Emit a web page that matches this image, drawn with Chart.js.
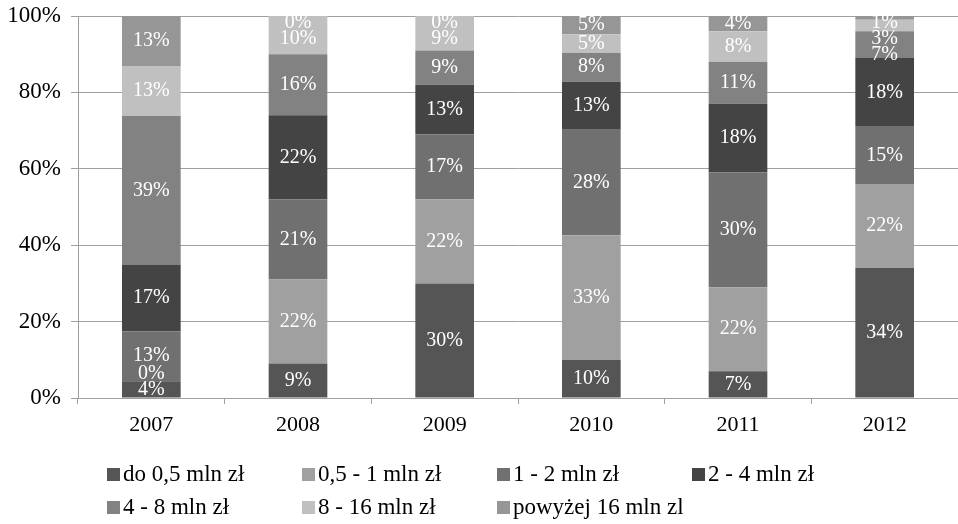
<!DOCTYPE html>
<html>
<head>
<meta charset="utf-8">
<script src="https://cdn.jsdelivr.net/npm/chart.js@4/dist/chart.umd.min.js"></script>
<style>
    body { margin: 0; background: #fff; }
    #wrap { position: relative; width: 958px; height: 524px; }
    #legend {
        position: absolute; left: 107px; top: 461px;
        display: grid; grid-template-columns: repeat(4, 195px); row-gap: 7px;
        font-family: "Liberation Serif", serif; font-size: 23px; color: #000;
    }
    .item { display: flex; align-items: center; height: 26px; white-space: nowrap; }
    .box { width: 13px; height: 13px; margin-right: 3px; }
</style>
</head>
<body>
<div id="wrap">
    <canvas id="chart" width="958" height="524"></canvas>
    <div id="legend"></div>
</div>
<script>
const years = ["2007", "2008", "2009", "2010", "2011", "2012"];
const seriesNames = ["do 0,5 mln zł", "0,5 - 1 mln zł", "1 - 2 mln zł", "2 - 4 mln zł",
                     "4 - 8 mln zł", "8 - 16 mln zł", "powyżej 16 mln zl"];
const seriesColors = ["#555555", "#a0a0a0", "#707070", "#444444", "#828282", "#c0c0c0", "#969696"];

// udział (%) w kolejnych latach, od dołu słupka
const do05  = [4.4, 9, 30, 10, 7, 34];
const s05_1 = [0, 22, 22, 32.6, 22, 22];
const s1_2  = [13.1, 21, 17, 27.6, 30, 15];
const s2_4  = [17.3, 22, 13, 12.6, 18, 18];
const s4_8  = [39.1, 16, 9, 7.6, 11, 7];
const s8_16 = [13, 10, 9, 4.8, 8, 3];
const pow16 = [13.1, 0, 0, 4.8, 4, 1];
const yTicks = [0, 20, 40, 60, 80, 100];

const seriesValues = [do05, s05_1, s1_2, s2_4, s4_8, s8_16, pow16];

// etykiety procentowe na słupkach, rozsuwane gdy nachodzą na siebie
const barLabels = {
    id: "barLabels",
    afterDatasetsDraw(chart) {
        const ctx = chart.ctx;
        const area = chart.chartArea;
        const gap = 16;
        ctx.save();
        ctx.font = '20px "Liberation Serif"';
        ctx.fillStyle = "#ffffff";
        ctx.textAlign = "center";
        ctx.textBaseline = "middle";
        years.forEach((y, i) => {
            let items = chart.data.datasets.map((ds, d) => {
                const bar = chart.getDatasetMeta(d).data[i];
                return { x: bar.x, y: (bar.y + bar.base) / 2, text: Math.round(ds.data[i]) + "%" };
            });
            for (let k = 1; k < items.length; k++) {
                items[k].y = Math.min(items[k].y, items[k - 1].y - gap);
            }
            const last = items.length - 1;
            items[last].y = Math.max(items[last].y, area.top + 7);
            for (let k = last - 1; k >= 0; k--) {
                items[k].y = Math.max(items[k].y, items[k + 1].y + gap);
            }
            items.forEach(it => ctx.fillText(it.text, it.x, it.y));
        });
        ctx.restore();
    }
};

const gridColor = "#a0a0a0";

new Chart(document.getElementById("chart"), {
    type: "bar",
    data: {
        labels: years,
        datasets: seriesValues.map((vals, d) => ({
            label: seriesNames[d],
            data: vals,
            backgroundColor: seriesColors[d],
            borderWidth: 0,
            categoryPercentage: 1,
            barPercentage: 0.4
        }))
    },
    options: {
        responsive: false,
        animation: false,
        layout: { padding: { top: 16, left: 0, right: 0, bottom: 86 } },
        plugins: {
            legend: { display: false },
            tooltip: { enabled: false }
        },
        scales: {
            x: {
                stacked: true,
                afterFit: scale => { scale.height = 40; },
                grid: { offset: true, drawOnChartArea: false, tickLength: 6, color: gridColor },
                border: { color: gridColor },
                ticks: { padding: 8, color: "#000", font: { family: "Liberation Serif", size: 22 } }
            },
            y: {
                stacked: true,
                min: 0,
                max: 100,
                afterFit: scale => {
                    scale.width = 78;
                    scale.paddingTop = 0;
                    scale.paddingBottom = 0;
                },
                afterBuildTicks: scale => { scale.ticks = yTicks.map(v => ({ value: v })); },
                grid: { color: gridColor, tickLength: 7 },
                border: { color: gridColor },
                ticks: {
                    padding: 10,
                    color: "#000",
                    font: { family: "Liberation Serif", size: 23 },
                    callback: v => v + "%"
                }
            }
        }
    },
    plugins: [barLabels]
});

// legenda w układzie kolumn jak w oryginale
const legend = document.getElementById("legend");
seriesNames.forEach((name, d) => {
    const item = document.createElement("div");
    item.className = "item";
    item.innerHTML = `<span class="box" style="background:${seriesColors[d]}"></span>${name}`;
    legend.appendChild(item);
});
</script>
</body>
</html>
